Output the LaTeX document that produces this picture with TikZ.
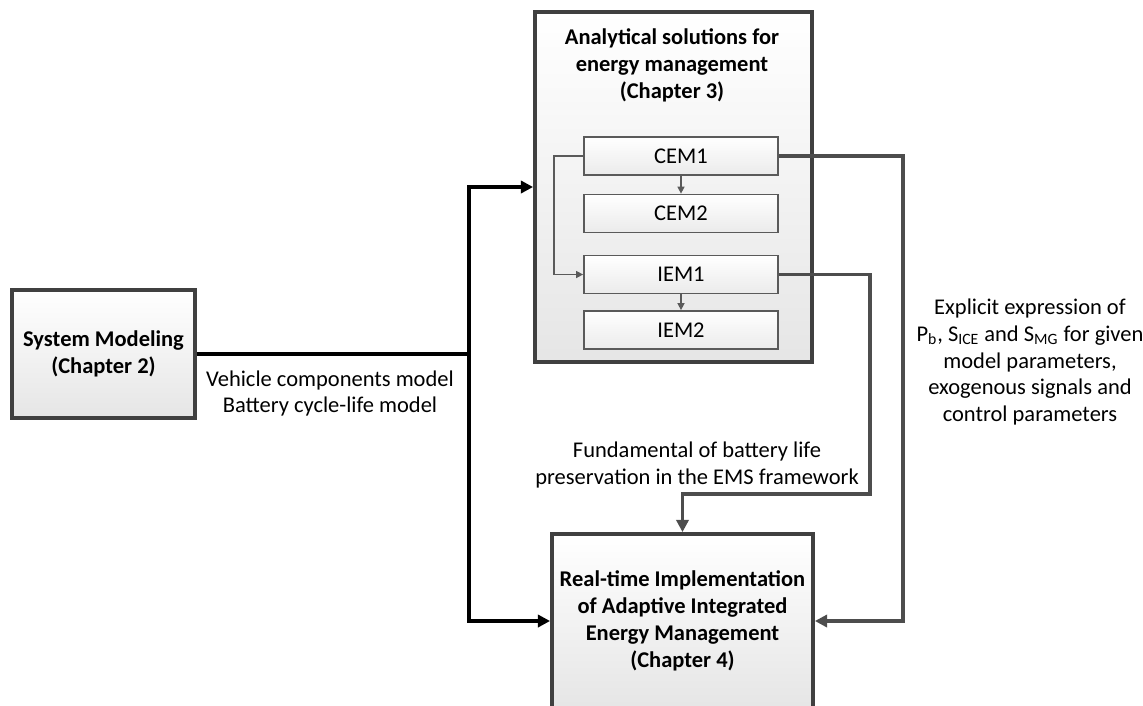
\documentclass[tikz,border=0pt]{standalone}
\usepackage{fontspec}
\setmainfont{Carlito}
\usetikzlibrary{positioning}
\usetikzlibrary{arrows.meta}
\definecolor{boxline}{HTML}{404040}
\definecolor{linkgray}{HTML}{4D4D4D}
\definecolor{subline}{HTML}{5A5A5A}

\begin{document}
\begin{tikzpicture}[
    font=\fontsize{12.8}{15.3}\selectfont,
    bigbox/.style={draw=boxline, line width=2.2pt, rectangle, top color=white, bottom color=black!10, align=center, font=\fontsize{12.8}{15.3}\selectfont\bfseries},
    titletext/.style={align=center, font=\fontsize{12.8}{15.3}\selectfont\bfseries},
    subbox/.style={draw=subline, line width=1pt, rectangle, top color=white, bottom color=black!8, minimum width=3.88cm, minimum height=0.76cm},
    mainlink/.style={line width=2.2pt, -{Triangle[length=7pt,width=7pt]}},
    graylink/.style={color=linkgray, line width=2pt, -{Triangle[length=7pt,width=7pt]}},
    sublink/.style={color=subline, line width=0.8pt, -{Triangle[length=4pt,width=4pt]}}
]
\useasboundingbox (0,0) rectangle (22.86,-14.1);

\node[bigbox, minimum width=3.66cm, minimum height=2.56cm] (sys) at (2.07,-7.08) {System Modeling\\(Chapter 2)};
\node[bigbox, minimum width=5.54cm, minimum height=7cm] (ana) at (13.47,-3.74) {};
\node[titletext] (anatitle) at (13.44,-1.3) {Analytical solutions for\\energy management\\(Chapter 3)};
\node[subbox] (cem1) at (13.62,-3.12) {CEM1};
\node[subbox] (cem2) at (13.62,-4.27) {CEM2};
\node[subbox] (iem1) at (13.62,-5.49) {IEM1};
\node[subbox] (iem2) at (13.62,-6.6) {IEM2};
\node[bigbox, minimum width=5.22cm, minimum height=3.48cm] (rt) at (13.65,-12.42) {Real-time Implementation\\of Adaptive Integrated\\Energy Management\\(Chapter 4)};

\coordinate (split) at (9.38,-7.08);
\coordinate (cemturn) at (18.06,-3.12);
\coordinate (iemturn) at (17.4,-9.88);

\draw[line width=2.2pt] (sys.east) -- (split);
\draw[mainlink] (split) |- (ana.west);
\draw[mainlink] (split) |- (rt.west);

\draw[sublink] (cem1) -- (cem2);
\draw[sublink] (iem1) -- (iem2);
\draw[sublink] (cem1.west) -- ++(-0.58,0) |- (iem1.west);

\draw[graylink] (cem1.east) -- (cemturn) |- (rt.east);
\draw[graylink] (iem1.east) -| (iemturn) -| (rt.north);

\node[align=center] (vehtext) at (6.6,-7.87) {Vehicle components model\\Battery cycle-life model};
\node[align=center] (fundtext) at (13.94,-9.3) {Fundamental of battery life\\preservation in the EMS framework};
\node[align=center] (expltext) at (20.6,-7.24) {Explicit expression of\\P\textsubscript{b}, S\textsubscript{ICE} and S\textsubscript{MG} for given\\model parameters,\\exogenous signals and\\control parameters};
\end{tikzpicture}
\end{document}
